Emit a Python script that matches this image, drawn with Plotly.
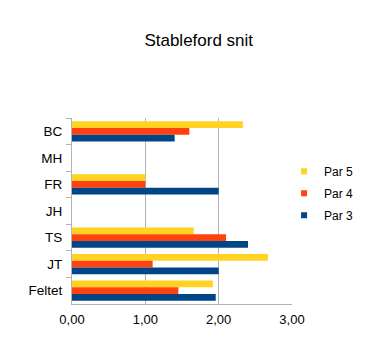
import plotly.graph_objects as go

categories = ["BC", "MH", "FR", "JH", "TS", "JT", "Feltet"]
par5 = [2.33, None, 1.0, None, 1.66, 2.67, 1.92]
par4 = [1.60, None, 1.0, None, 2.10, 1.10, 1.45]
par3 = [1.40, None, 2.0, None, 2.40, 2.00, 1.96]
series_names = ["Par 5", "Par 4", "Par 3"]
colors = ["#FFD320", "#FF420E", "#004586"]
x_ticks = [0, 1, 2, 3]
x_labels = ["0,00", "1,00", "2,00", "3,00"]

fig = go.Figure()
for name, vals, col in zip(series_names, [par5, par4, par3], colors):
    fig.add_trace(go.Bar(y=categories, x=vals, orientation="h", name=name,
                         marker=dict(color=col, line=dict(width=0)),
                         showlegend=False))
for name, col in zip(series_names, colors):
    fig.add_trace(go.Scatter(x=[None], y=[None], mode="markers", name=name,
                             legendgroup=name,
                             marker=dict(symbol="square", size=6, color=col)))

fig.update_layout(
    width=366, height=347,
    margin=dict(l=72, r=74, t=118, b=43, autoexpand=False),
    paper_bgcolor="white", plot_bgcolor="white",
    font=dict(family="Liberation Sans, Arial, sans-serif", color="black", size=13),
    title=dict(text="Stableford snit", x=0.543, xanchor="center", y=0.885, yanchor="middle",
               font=dict(size=17)),
    barmode="group", bargap=0.24, bargroupgap=0,
    showlegend=True,
    legend=dict(x=0.964, xanchor="left", y=0.595, yanchor="middle", font=dict(size=12),
                bgcolor="rgba(0,0,0,0)", itemwidth=30, tracegroupgap=3),
)
fig.update_xaxes(range=[0, 3], tickvals=x_ticks, ticktext=x_labels,
                 showgrid=True, gridcolor="#b3b3b3", gridwidth=1,
                 showline=True, linecolor="#b3b3b3", zeroline=False,
                 ticks="", tickfont=dict(size=13), ticklabelstandoff=3, fixedrange=True)
fig.update_yaxes(categoryorder="array", categoryarray=categories, autorange="reversed",
                 showline=True, linecolor="#b3b3b3", ticks="outside", tickson="boundaries",
                 ticklen=5, tickcolor="#b3b3b3", showgrid=False, tickfont=dict(size=13.5),
                 ticklabelstandoff=6, fixedrange=True)

fig.write_html("out.html")
